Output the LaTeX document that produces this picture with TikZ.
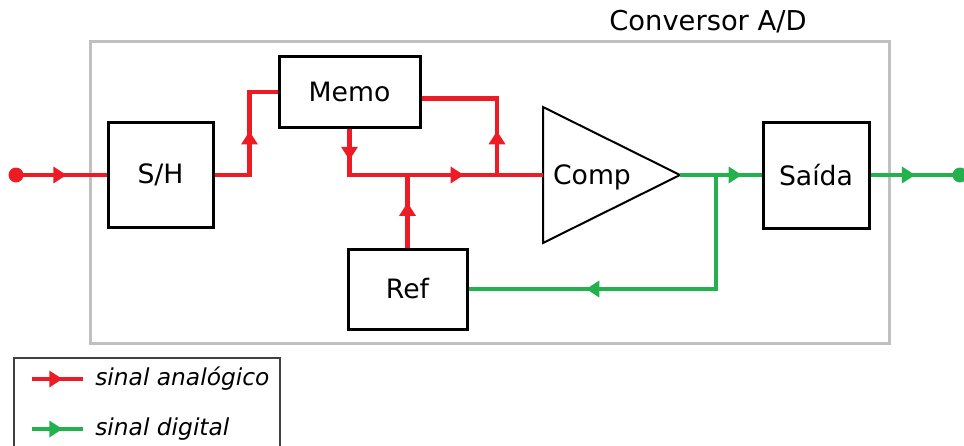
\documentclass[tikz,border=0pt]{standalone}
\usepackage{fontspec}
\setmainfont{DejaVu Sans}
\usetikzlibrary{arrows.meta,decorations.markings}
\newlength\px \setlength\px{0.75pt}
\definecolor{sinred}{RGB}{237,28,36}
\definecolor{singreen}{RGB}{34,177,76}
\definecolor{framegray}{RGB}{192,192,192}
\tikzset{
	block/.style={draw=black, line width=3\px, fill=white, inner sep=0pt, font=\fontsize{20}{23}\selectfont},
	ana/.style={draw=sinred, line width=4.5\px},
	dig/.style={draw=singreen, line width=4.5\px},
	tipat/.style={postaction={decorate, decoration={markings,
		mark=at position #1 with {\arrow{Triangle[length=10pt,width=12pt]}}}}},
	legendtext/.style={anchor=west, inner sep=0pt, font=\fontsize{17.5}{20}\selectfont\itshape}
}

\begin{document}
\begin{tikzpicture}[x=0.75pt,y=-0.75pt]
			%%%%% START %%%%%
			\useasboundingbox (0,0) rectangle (964,446);
			
			\draw[framegray, line width=3\px] (90,41) rectangle (889,343);
			\node[font=\fontsize{20.5}{23}\selectfont] (title) at (708,22) {Conversor A/D};
			
			\node[block, minimum width=105\px, minimum height=105\px] (sh) at (160.5,175) {S/H};
			\node[block, minimum width=141\px, minimum height=71\px] (memo) at (349.5,92) {Memo};
			\node[block, minimum width=119\px, minimum height=80\px] (ref) at (407.5,289) {Ref};
			\node[block, minimum width=106\px, minimum height=106\px] (saida) at (816,175) {Saída};
			
			\draw[line width=2\px] (543,107) -- (680,175) -- (543,243) -- cycle;
			\coordinate (compin) at (543,175);
			\coordinate (compout) at (680,175);
			\node[font=\fontsize{20}{23}\selectfont] (comp) at (592,177) {Comp};
			
			\coordinate (in) at (16,175);
			\coordinate (out) at (960,175);
			\coordinate (jmem) at (497,175);
			\coordinate (jref) at (ref.north |- compin);
			\coordinate (jdig) at (716,175);
			
			% analog path
			\draw[ana, tipat=0.56] (in) -- (sh.west);
			\draw[ana, tipat=0.54] (sh.east) -- ++(35,0) |- (memo.west);
			\draw[ana, tipat=0.13, tipat=0.67] (memo.south) |- (compin);
			\draw[ana, tipat=0.29] (jmem) |- ([yshift=-5pt]memo.east);
			\draw[ana, tipat=0.62] (ref.north) -- (jref);
			\fill[sinred] (in) circle (5.6pt);
			
			% digital path
			\draw[dig, tipat=0.76] (compout) -- (saida.west);
			\draw[dig, tipat=0.675] (jdig) |- (ref.east);
			\draw[dig, tipat=0.5] (saida.east) -- (out);
			\fill[singreen] (out) circle (5.6pt);
			
			% legend
			\draw[line width=2\px, black!75] (14,358) rectangle (280,470);
			\coordinate (la1) at (32,379);
			\coordinate (la2) at (83,379);
			\coordinate (ld1) at (32,429);
			\coordinate (ld2) at (83,429);
			\draw[ana, tipat=0.6] (la1) -- (la2);
			\draw[dig, tipat=0.6] (ld1) -- (ld2);
			\node[legendtext] (lana) at (95,379) {sinal analógico};
			\node[legendtext] (ldig) at (95,429) {sinal digital};
			%%%%% END %%%%%
\end{tikzpicture}
\end{document}
